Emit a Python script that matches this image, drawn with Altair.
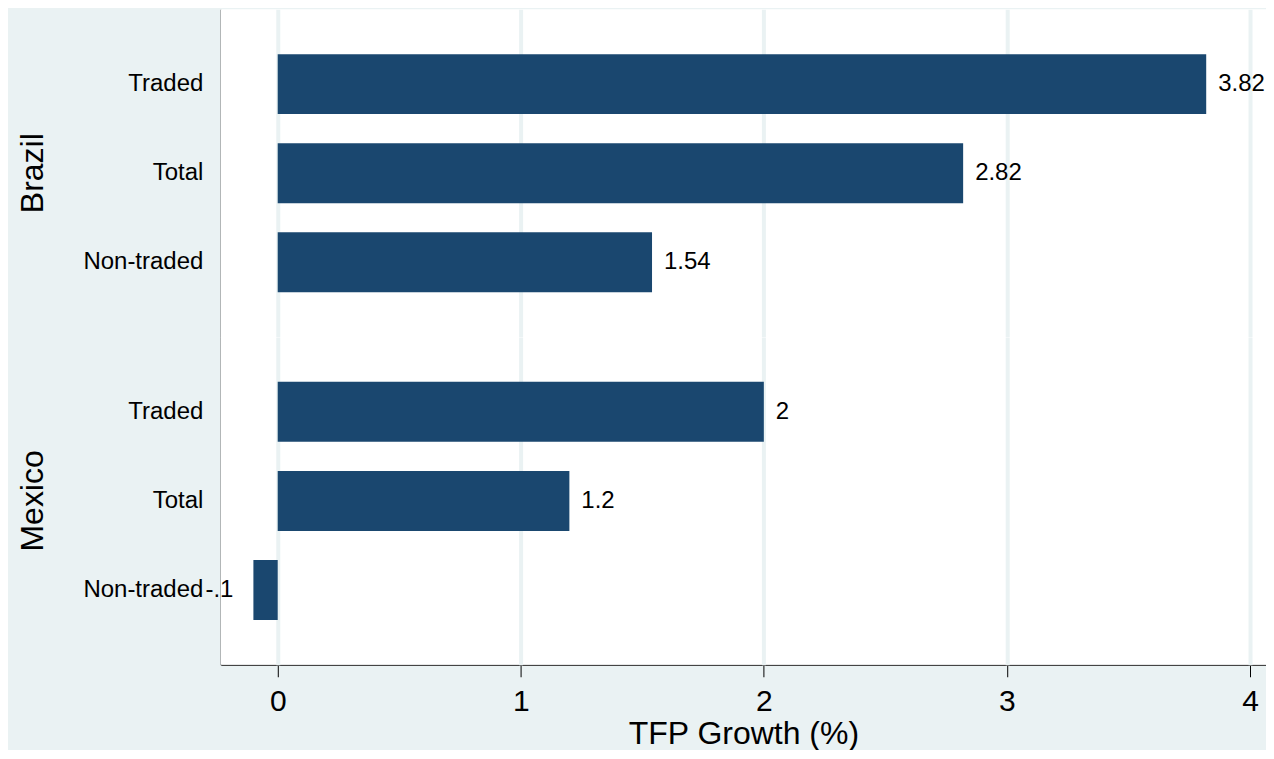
import altair as alt
import pandas as pd

countries = ["Brazil", "Brazil", "Brazil", "Mexico", "Mexico", "Mexico"]
sectors = ["Traded", "Total", "Non-traded", "Traded", "Total", "Non-traded"]
values = [3.82, 2.82, 1.54, 2.0, 1.2, -0.1]
sector_order = ["Traded", "Total", "Non-traded"]
country_order = ["Brazil", "Mexico"]
x_ticks = [0, 1, 2, 3, 4]

df = pd.DataFrame({"country": countries, "sector": sectors, "value": values})

BG = "#EAF2F3"
BAR = "#1A476F"
FONT = "Liberation Sans"

base = alt.Chart().transform_calculate(
    a="abs(datum.value)",
).transform_calculate(
    lbl="(datum.value < 0 ? '-' : '') + (datum.a < 1 ? replace(format(datum.a, '~g'), '0.', '.') : format(datum.a, '~g'))"
).encode(
    y=alt.Y(
        "sector:N",
        sort=sector_order,
        scale=alt.Scale(paddingInner=0.32, paddingOuter=0.5),
        axis=alt.Axis(
            title=None, ticks=False, domain=True, domainColor="#444444", domainWidth=1.5,
            labelFontSize=24, labelFont=FONT, labelColor="#000000", labelPadding=18,
        ),
    ),
    x=alt.X(
        "value:Q",
        scale=alt.Scale(domain=[-0.234, 4.066], nice=False, zero=False),
        axis=alt.Axis(
            values=x_ticks, title="TFP Growth (%)", grid=True, gridColor=BG, gridWidth=4,
            tickSize=12, tickColor="#000000", tickWidth=1, domainColor="#444444", domainWidth=1.5,
            labelFontSize=30, labelFont=FONT, labelColor="#000000", labelPadding=10,
            titleFontSize=32, titleFont=FONT, titleFontWeight="normal", titleColor="#000000",
            titlePadding=2, format="d",
        ),
    ),
)

bars = base.mark_bar(color=BAR, size=60)
txt_pos = base.transform_filter("datum.value >= 0").mark_text(
    align="left", baseline="middle", dx=12, fontSize=24, font=FONT, color="#000000"
).encode(text="lbl:N")
txt_neg = base.transform_filter("datum.value < 0").mark_text(
    align="right", baseline="middle", dx=-20, fontSize=24, font=FONT, color="#000000"
).encode(text="lbl:N")

chart = alt.layer(bars, txt_pos, txt_neg, data=df).properties(
    width=1046, height=328
).facet(
    row=alt.Row(
        "country:N", sort=country_order,
        header=alt.Header(
            title=None, labelOrient="left", labelAngle=270, labelFontSize=32, labelFont=FONT,
            labelColor="#000000", labelPadding=18, labelAlign="center", labelBaseline="middle",
        ),
    ),
    spacing=0,
    bounds="flush",
).properties(
    background=BG, padding={"top": 1, "left": 8, "right": 0, "bottom": 0}
).configure_view(
    fill="white", stroke=None
)

chart.save("out.html", embed_options={"renderer": "svg", "actions": False})
